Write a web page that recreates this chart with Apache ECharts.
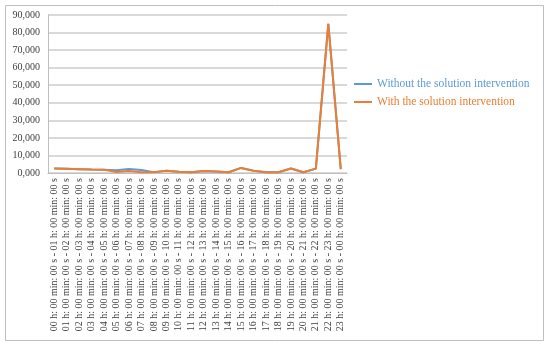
<!DOCTYPE html>
<html>
<head>
<meta charset="utf-8">
<script src="https://cdn.jsdelivr.net/npm/echarts@6/dist/echarts.min.js"></script>
<style>
  html, body { margin: 0; padding: 0; background: #fff; }
  #chart { width: 550px; height: 346px; }
</style>
</head>
<body>
<div id="chart"></div>
<script>
// hourly slots
var hours = ['00', '01', '02', '03', '04', '05', '06', '07', '08', '09', '10', '11',
  '12', '13', '14', '15', '16', '17', '18', '19', '20', '21', '22', '23']
var categories = hours.map(function (h, i) {
  var next = hours[(i + 1) % 24]
  return h + ' h: 00 min: 00 s - ' + next + ' h: 00 min: 00 s'
})

var withoutData = [2600, 2400, 2200, 2000, 1900, 1500, 2300, 1700, 500, 1300, 700, 400,
  1100, 900, 400, 2900, 1300, 400, 400, 2600, 400, 2500, 85000, 2200]
var withData = [2600, 2400, 2200, 2000, 1900, 600, 1100, 400, 500, 1300, 700, 400,
  1100, 900, 400, 2900, 1300, 400, 400, 2600, 400, 2500, 85000, 2200]

var yTicks = [0, 10000, 20000, 30000, 40000, 50000, 60000, 70000, 80000, 90000]

var blue = '#5b9bd5'
var orange = '#ed7d31'

var chart = echarts.init(document.getElementById('chart'))
chart.setOption({
  animation: false,
  textStyle: { fontFamily: 'Liberation Serif' },
  graphic: [{
    type: 'rect',
    shape: { x: 5.5, y: 5.5, width: 538, height: 335 },
    style: { fill: 'none', stroke: '#bfbfbf', lineWidth: 1 }
  }],
  grid: { left: 48, right: 203, top: 15, bottom: 173 },
  legend: {
    orient: 'vertical',
    left: 354,
    top: 78,
    padding: 0,
    itemWidth: 18,
    itemHeight: 2,
    itemGap: 6,
    icon: 'rect',
    textStyle: { fontFamily: 'Liberation Serif', fontSize: 11.5 },
    data: [
      { name: 'Without the solution intervention', textStyle: { color: blue } },
      { name: 'With the solution intervention', textStyle: { color: orange } }
    ]
  },
  xAxis: {
    type: 'category',
    data: categories,
    axisLine: { lineStyle: { color: '#bfbfbf' } },
    axisTick: { length: 4, lineStyle: { color: '#bfbfbf' } },
    axisLabel: {
      rotate: 90,
      interval: 0,
      margin: 5,
      fontSize: 10,
      color: '#404040',
      fontFamily: 'Liberation Serif'
    }
  },
  yAxis: {
    type: 'value',
    min: yTicks[0],
    max: yTicks[yTicks.length - 1],
    interval: 10000,
    axisLine: { show: true, lineStyle: { color: '#bfbfbf' } },
    axisTick: { show: false },
    splitLine: { lineStyle: { color: '#cccccc', width: 1.5 } },
    axisLabel: {
      margin: 8,
      fontSize: 10,
      color: '#404040',
      fontFamily: 'Liberation Serif',
      formatter: function (v) {
        var k = Math.floor(v / 1000)
        return k + ',000'
      }
    }
  },
  series: [
    {
      name: 'Without the solution intervention',
      type: 'line',
      data: withoutData,
      showSymbol: false,
      symbol: 'none',
      color: blue,
      lineStyle: { width: 2, color: blue }
    },
    {
      name: 'With the solution intervention',
      type: 'line',
      data: withData,
      showSymbol: false,
      symbol: 'none',
      color: orange,
      lineStyle: { width: 2, color: orange }
    }
  ]
})
</script>
</body>
</html>
